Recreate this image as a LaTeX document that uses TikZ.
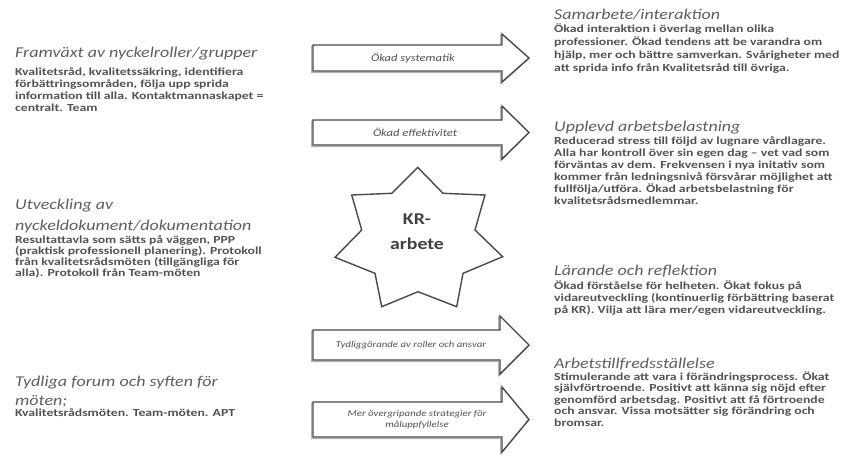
\documentclass[tikz,border=0pt]{standalone}
\usepackage{fontspec}
\newfontfamily\kfont[FakeStretch=1.2]{Carlito}
\newfontfamily\bfont[FakeStretch=1.27]{Carlito}
\definecolor{txtgray}{HTML}{525252}
\definecolor{headgray}{HTML}{5E5E5E}
\definecolor{linegray}{HTML}{484848}
\newcommand\rows[1]{\begin{tabular}[t]{@{}l@{}}#1\end{tabular}}
\begin{document}
\begin{tikzpicture}[x=1pt,y=-1pt,
  headtxt/.style={anchor=base west, inner sep=0pt, text=headgray,
    font=\kfont\itshape\fontsize{15}{21}\selectfont},
  bodytxt/.style={anchor=base west, inner sep=0pt, text=txtgray,
    font=\bfont\bfseries\fontsize{10.8}{12}\selectfont},
  blockarrow/.style={draw=linegray, line width=1.4pt, fill=white, line join=miter,
    preaction={draw=gray!60, line width=1.4pt,
      transform canvas={shift={(-1.3pt,-1.3pt)}}}},
  starline/.style={draw=linegray, line width=1.4pt, fill=white, line join=miter},
  arrowlabel/.style={inner sep=0pt, text=txtgray, font=\kfont\itshape\fontsize{10.5}{12}\selectfont},
  smalllabel/.style={inner sep=0pt, text=txtgray, font=\kfont\itshape\fontsize{9}{11}\selectfont},
  kr/.style={inner sep=0pt, text=black!75, align=center,
    font=\kfont\bfseries\fontsize{16.5}{25}\selectfont}]
\useasboundingbox (0,0) rectangle (842,459);

% ---------- left column: driving changes ----------
\node[headtxt] (h1) at (15,57) {Framväxt av nyckelroller/grupper};
\node[bodytxt] (b1) at (15,75) {\rows{Kvalitetsråd, kvalitetssäkring, identifiera\\
förbättringsområden, följa upp sprida\\
information till alla. Kontaktmannaskapet =\\
centralt. Team}};

\node[headtxt] (h2) at (15,209) {\rows{Utveckling av\\ nyckeldokument/dokumentation}};
\node[bodytxt, font=\bfont\bfseries\fontsize{10.8}{11}\selectfont] (b2) at (15,243) {\rows{Resultattavla som sätts på väggen, PPP\\
(praktisk professionell planering). Protokoll\\
från kvalitetsrådsmöten (tillgängliga för\\
alla). Protokoll från Team-möten}};

\node[headtxt, font=\kfont\itshape\fontsize{15}{19}\selectfont] (h3) at (15,386) {\rows{Tydliga forum och syften för\\ möten;}};
\node[bodytxt] (b3) at (15,416) {Kvalitetsrådsmöten. Team-möten. APT};

% ---------- right column: outcomes ----------
\node[headtxt] (h4) at (554,19) {Samarbete/interaktion};
\node[bodytxt, font=\bfont\bfseries\fontsize{10.8}{13}\selectfont] (b4) at (554,32) {\rows{Ökad interaktion i överlag mellan olika\\
professioner. Ökad tendens att be varandra om\\
hjälp, mer och bättre samverkan. Svårigheter med\\
att sprida info från Kvalitetsråd till övriga.}};

\node[headtxt] (h5) at (554,131) {Upplevd arbetsbelastning};
\node[bodytxt] (b5) at (554,144) {\rows{Reducerad stress till följd av lugnare vårdlagare.\\
Alla har kontroll över sin egen dag – vet vad som\\
förväntas av dem. Frekvensen i nya initativ som\\
kommer från ledningsnivå försvårar möjlighet att\\
fullfölja/utföra. Ökad arbetsbelastning för\\
kvalitetsrådsmedlemmar.}};

\node[headtxt] (h6) at (554,275) {Lärande och reflektion};
\node[bodytxt] (b6) at (554,289) {\rows{Ökad förståelse för helheten. Ökat fokus på\\
vidareutveckling (kontinuerlig förbättring baserat\\
på KR). Vilja att lära mer/egen vidareutveckling.}};

\node[headtxt] (h7) at (554,368) {Arbetstillfredsställelse};
\node[bodytxt, font=\bfont\bfseries\fontsize{10.8}{11.5}\selectfont] (b7) at (554,380) {\rows{Stimulerande att vara i förändringsprocess. Ökat\\
självförtroende. Positivt att känna sig nöjd efter\\
genomförd arbetsdag. Positivt att få förtroende\\
och ansvar. Vissa motsätter sig förändring och\\
bromsar.}};

% ---------- block arrows ----------
\draw[blockarrow] (313,45) -- (502,45) -- (502,34) -- (529,58) -- (502,82) -- (502,71) -- (313,71) -- cycle;
\node[arrowlabel] (a1) at (413,58) {Ökad systematik};

\draw[blockarrow] (313,120) -- (502,120) -- (502,106) -- (529,132.5) -- (502,159) -- (502,145) -- (313,145) -- cycle;
\node[arrowlabel] (a2) at (415,132.5) {Ökad effektivitet};

\draw[blockarrow] (313,330) -- (500,330) -- (500,316) -- (529,345) -- (500,374) -- (500,360) -- (313,360) -- cycle;
\node[smalllabel] (a3) at (411,345) {Tydliggörande av roller och ansvar};

\draw[blockarrow] (313,402) -- (502,402) -- (502,387) -- (529,419.5) -- (502,452) -- (502,437) -- (313,437) -- cycle;
\node[smalllabel, align=center] (a4) at (417,419.5) {Mer övergripande strategier för\\ måluppfyllelse};

% ---------- central star ----------
\draw[starline] (417.7,167.3) -- (443,193.3) -- (485,195) -- (475,230) -- (502.7,256.7)
  -- (463,273.3) -- (456.7,306.7) -- (418,291.7) -- (381.7,306.7) -- (375,273.3)
  -- (335,257.3) -- (361.7,230) -- (351.7,195) -- (391.7,193.3) -- cycle;
\node[kr] (star) at (417,232) {KR-\\arbete};
\end{tikzpicture}
\end{document}
